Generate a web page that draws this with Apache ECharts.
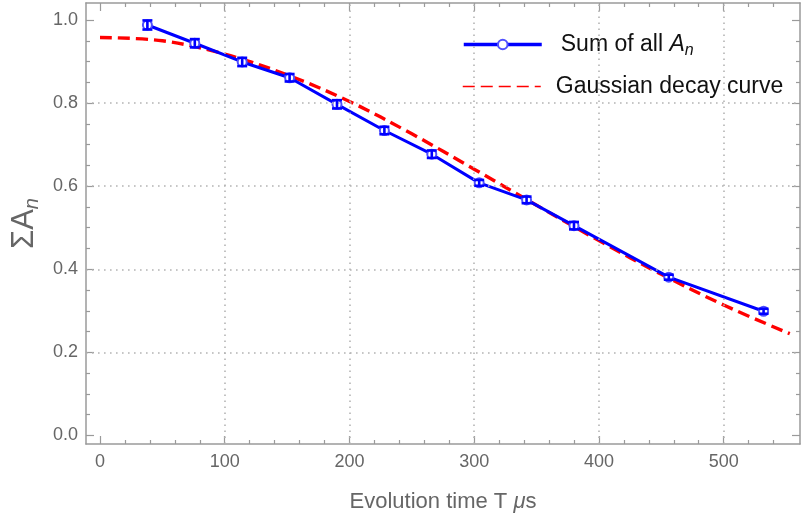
<!DOCTYPE html>
<html>
<head>
<meta charset="utf-8">
<script src="https://cdn.jsdelivr.net/npm/echarts@6/dist/echarts.min.js"></script>
<style>
  html, body { margin: 0; padding: 0; background: #fff; }
  #chart { width: 801px; height: 519px; }
</style>
</head>
<body>
<div id="chart"></div>
<script>
// Measured sum of amplitudes versus evolution time
const evolutionTimes = [38, 76, 114, 152, 190, 228, 266, 304, 342, 380, 456, 532];
const sumAn = [0.988, 0.944, 0.899, 0.861, 0.797, 0.734, 0.677, 0.608, 0.567, 0.505, 0.381, 0.299];
const sumAnError = [0.011, 0.010, 0.010, 0.009, 0.010, 0.009, 0.009, 0.007, 0.008, 0.009, 0.006, 0.006];

// Gaussian decay curve, sampled along the time axis
const curveTimes = [0, 50, 100, 150, 200, 250, 300, 350, 400, 450, 500, 553];
const curveValues = [0.958, 0.950, 0.918, 0.868, 0.804, 0.726, 0.641, 0.554, 0.469, 0.388, 0.314, 0.245];

// Tick positions
const xMajorTicks = [0, 100, 200, 300, 400, 500];
const xMinorTicks = [20, 40, 60, 80, 120, 140, 160, 180, 220, 240, 260, 280, 320, 340, 360, 380, 420, 440, 460, 480, 520, 540];
const yMajorTicks = [0, 0.2, 0.4, 0.6, 0.8, 1.0];
const yMinorTicks = [0.05, 0.1, 0.15, 0.25, 0.3, 0.35, 0.45, 0.5, 0.55, 0.65, 0.7, 0.75, 0.85, 0.9, 0.95];
const xGridLines = [100, 200, 300, 400, 500];
const yGridLines = [0.2, 0.4, 0.6, 0.8];

const X_MIN = -11.22, X_MAX = 561.2;
const Y_MIN = -0.0205, Y_MAX = 1.0409;

const FONT = "'Liberation Sans', Arial, sans-serif";
const FRAME = '#9a9a9a';
const LABEL = '#666666';

function frameAxis(kind, position, ticks, len, showLine, labels) {
  return {
    type: 'value',
    position: position,
    min: kind === 'x' ? X_MIN : Y_MIN,
    max: kind === 'x' ? X_MAX : Y_MAX,
    axisLine: { show: showLine, onZero: false, lineStyle: { color: FRAME, width: 1.5 } },
    axisTick: { show: true, inside: true, length: len, customValues: ticks, lineStyle: { color: FRAME, width: 1.2 } },
    axisLabel: labels
      ? {
          show: true,
          customValues: ticks,
          color: LABEL,
          fontSize: 18,
          fontFamily: FONT,
          margin: kind === 'x' ? 9 : 8,
          formatter: kind === 'x' ? (v) => String(Math.round(v)) : (v) => v.toFixed(1)
        }
      : { show: false },
    splitLine: { show: false }
  };
}

const xAxes = [
  Object.assign(frameAxis('x', 'bottom', xMajorTicks, 8, true, true), {
    name: '{t|Evolution time T }{m|μ}{t|s}',
    nameLocation: 'middle',
    nameGap: 47,
    nameTextStyle: {
      rich: {
        t: { fontSize: 22, color: LABEL, fontFamily: FONT },
        m: { fontSize: 22, color: LABEL, fontFamily: FONT, fontStyle: 'italic' }
      }
    }
  }),
  frameAxis('x', 'bottom', xMinorTicks, 4, false, false),
  frameAxis('x', 'top', xMajorTicks, 8, true, false),
  frameAxis('x', 'top', xMinorTicks, 4, false, false)
];

const yAxes = [
  Object.assign(frameAxis('y', 'left', yMajorTicks, 8, true, true), {
    name: '{m|ΣA}{s|n}',
    nameLocation: 'middle',
    nameRotate: 90,
    nameGap: 43,
    nameTextStyle: {
      rich: {
        m: { fontSize: 31, lineHeight: 36, color: LABEL, fontFamily: FONT },
        s: { fontSize: 20, lineHeight: 17, color: LABEL, fontFamily: FONT, fontStyle: 'italic', verticalAlign: 'bottom' }
      }
    }
  }),
  frameAxis('y', 'left', yMinorTicks, 4, false, false),
  frameAxis('y', 'right', yMajorTicks, 8, true, false),
  frameAxis('y', 'right', yMinorTicks, 4, false, false)
];

const measured = evolutionTimes.map((t, i) => [t, sumAn[i]]);
const errorBars = evolutionTimes.map((t, i) => [t, sumAn[i] - sumAnError[i], sumAn[i] + sumAnError[i]]);
const curve = curveTimes.map((t, i) => [t, curveValues[i]]);

const gridMarks = xGridLines.map((v) => ({ xAxis: v })).concat(yGridLines.map((v) => ({ yAxis: v })));

const legendRich = {
  r: { fontSize: 23, color: '#111', fontFamily: FONT },
  i: { fontSize: 23, color: '#111', fontFamily: FONT, fontStyle: 'italic', lineHeight: 28 },
  sub: { fontSize: 16, color: '#111', fontFamily: FONT, fontStyle: 'italic', lineHeight: 15, verticalAlign: 'bottom' }
};

const chart = echarts.init(document.getElementById('chart'), null, { renderer: 'canvas' });

chart.setOption({
  animation: false,
  backgroundColor: '#ffffff',
  grid: { left: 86, right: 1, top: 3, bottom: 75, containLabel: false, outerBoundsMode: 'none' },
  xAxis: xAxes,
  yAxis: yAxes,
  legend: [
    {
      data: ['Sum of all An'],
      left: 462,
      top: 33,
      itemWidth: 78,
      itemHeight: 12,
      padding: 0,
      lineStyle: { width: 3.5 },
      formatter: () => '{r|Sum of all }{i|A}{sub|n}',
      textStyle: { rich: legendRich, padding: [0, 0, 0, 14] }
    },
    {
      data: ['Gaussian decay curve'],
      left: 462,
      top: 75,
      itemWidth: 78,
      itemHeight: 12,
      padding: 0,
      lineStyle: { width: 1.5 },
      itemStyle: { color: 'rgba(0,0,0,0)', borderWidth: 0 },
      formatter: () => '{r|Gaussian decay curve}',
      textStyle: { rich: legendRich, padding: [0, 0, 0, 10] }
    }
  ],
  series: [
    {
      // dotted grid lines
      type: 'line',
      name: 'grid',
      data: [],
      silent: true,
      z: 1,
      markLine: {
        silent: true,
        symbol: ['none', 'none'],
        label: { show: false },
        emphasis: { disabled: true },
        lineStyle: { color: '#b4b4b4', width: 1.6, type: [1.6, 4.4] },
        data: gridMarks
      }
    },
    {
      type: 'line',
      name: 'Gaussian decay curve',
      data: curve,
      smooth: 0.35,
      showSymbol: false,
      symbol: 'none',
      z: 2,
      lineStyle: { color: '#ff0000', width: 3.4, type: [12, 6] },
      itemStyle: { color: '#ff0000' }
    },
    {
      type: 'line',
      name: 'Sum of all An',
      data: measured,
      symbol: 'emptyCircle',
      symbolSize: 9,
      z: 4,
      lineStyle: { color: '#0000ff', width: 3 },
      itemStyle: { color: '#5050ff', borderColor: '#4a4aff', borderWidth: 1.3 }
    },
    {
      type: 'custom',
      name: 'error',
      data: errorBars,
      z: 5,
      silent: true,
      renderItem: function (params, api) {
        const x = api.value(0);
        const lo = api.coord([x, api.value(1)]);
        const hi = api.coord([x, api.value(2)]);
        const half = 5;
        const style = { stroke: '#0000ff', lineWidth: 2.6, fill: null };
        return {
          type: 'group',
          children: [
            { type: 'line', shape: { x1: lo[0], y1: lo[1], x2: hi[0], y2: hi[1] }, style: style },
            { type: 'line', shape: { x1: lo[0] - half, y1: lo[1], x2: lo[0] + half, y2: lo[1] }, style: style },
            { type: 'line', shape: { x1: hi[0] - half, y1: hi[1], x2: hi[0] + half, y2: hi[1] }, style: style }
          ]
        };
      }
    }
  ]
});
</script>
</body>
</html>
